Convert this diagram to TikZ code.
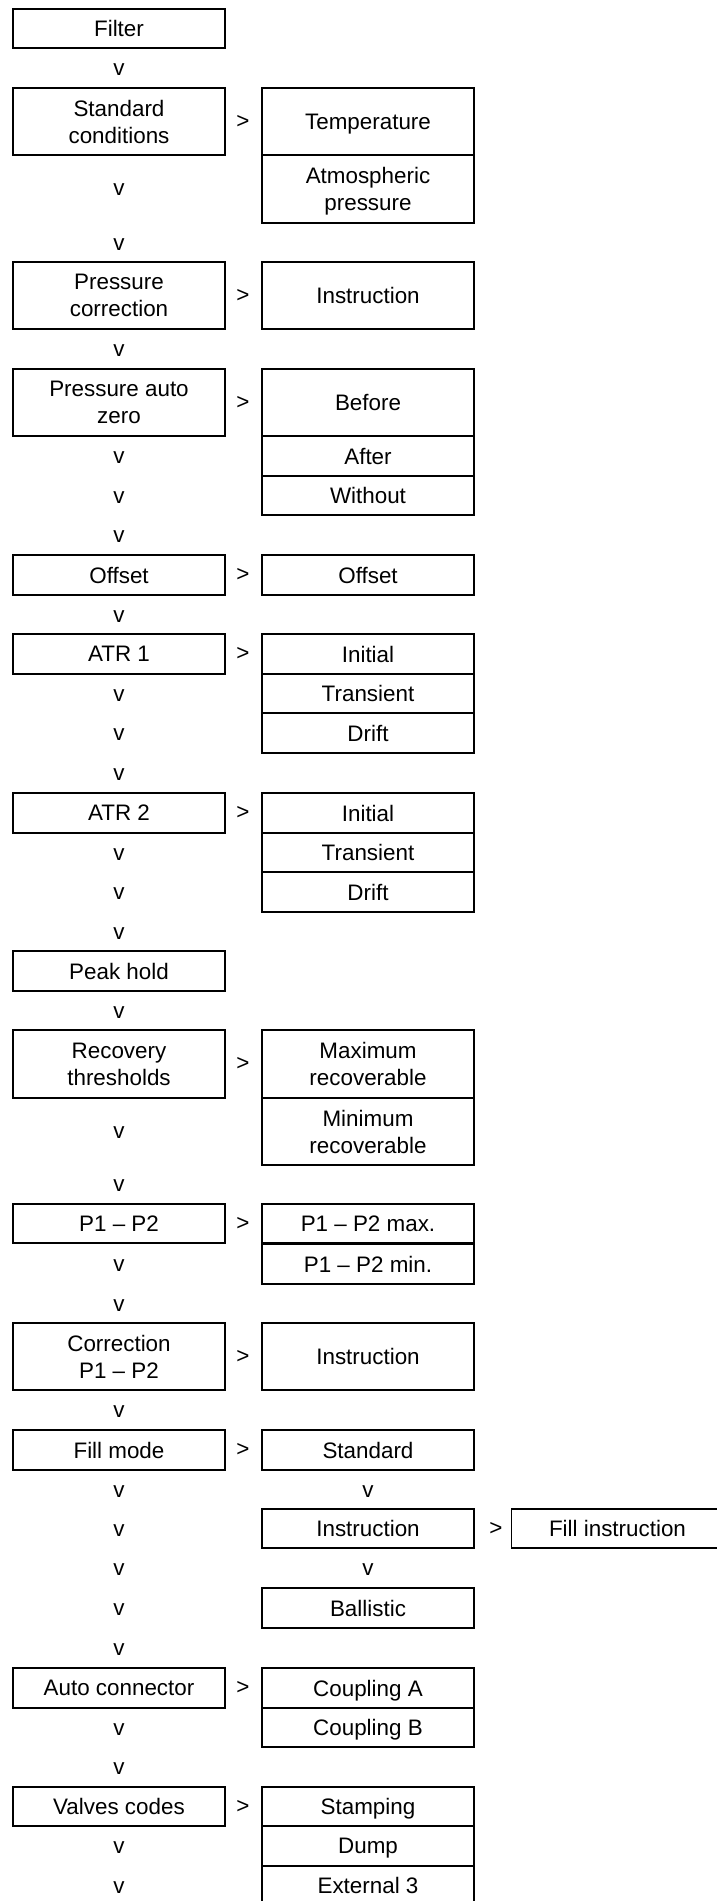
\documentclass[tikz,border=0pt]{standalone}
\usepackage{fontspec}
\setmainfont{Liberation Sans}

\begin{document}
\begin{tikzpicture}[
  x=1pt, y=-1pt, font=\fontsize{22.4}{27}\selectfont,
  cell/.style={draw, line width=1.8pt, minimum width=212pt, minimum height=39.5pt,
    inner sep=0pt, align=center, text depth=0pt},
  tall/.style={cell, minimum height=67.5pt},
  glyph/.style={inner sep=0pt}
]
\useasboundingbox (0,0) rectangle (717,1901);

% main menu
\node[cell] (filter)   at (119,28.5)   {Filter};
\node[tall] (stdcond)  at (119,121.5)  {Standard\\conditions};
\node[tall] (prescorr) at (119,295.5)  {Pressure\\correction};
\node[tall] (autozero) at (119,402.5)  {Pressure auto\\zero};
\node[cell] (offset)   at (119,575)    {Offset};
\node[cell] (atrone)   at (119,654)    {ATR 1};
\node[cell] (atrtwo)   at (119,813)    {ATR 2};
\node[cell] (peak)     at (119,971)    {Peak hold};
\node[tall] (recov)    at (119,1064)   {Recovery\\thresholds};
\node[cell] (ponetwo)  at (119,1223.5) {P1 -- P2};
\node[tall] (corr)     at (119,1356.5) {Correction\\P1 -- P2};
\node[cell] (fill)     at (119,1450)   {Fill mode};
\node[cell] (autocon)  at (119,1688)   {Auto connector};
\node[cell] (valves)   at (119,1806.5) {Valves codes};

% sub menus
\node[tall] (temp)      at (368,121.5)  {Temperature};
\node[tall] (atm)       at (368,189)    {Atmospheric\\pressure};
\node[tall] (instra)    at (368,295.5)  {Instruction};
\node[tall] (before)    at (368,402.5)  {Before};
\node[cell] (after)     at (368,456)    {After};
\node[cell] (without)   at (368,495.5)  {Without};
\node[cell] (offsetr)   at (368,575)    {Offset};
\node[cell] (initiala)  at (368,654)    {Initial};
\node[cell] (transa)    at (368,693.5)  {Transient};
\node[cell] (drifta)    at (368,733)    {Drift};
\node[cell] (initialb)  at (368,813)    {Initial};
\node[cell] (transb)    at (368,852.5)  {Transient};
\node[cell] (driftb)    at (368,892)    {Drift};
\node[tall] (maxrec)    at (368,1064)   {Maximum\\recoverable};
\node[tall] (minrec)    at (368,1131.5) {Minimum\\recoverable};
\node[cell] (pmax)      at (368,1223.5) {P1 -- P2 max.};
\node[cell] (pmin)      at (368,1264)   {P1 -- P2 min.};
\node[tall] (instrb)    at (368,1356.5) {Instruction};
\node[cell] (standard)  at (368,1450)   {Standard};
\node[cell] (instrc)    at (368,1528.5) {Instruction};
\node[cell] (ballistic) at (368,1608)   {Ballistic};
\node[cell] (coupla)    at (368,1688)   {Coupling A};
\node[cell] (couplb)    at (368,1727.5) {Coupling B};
\node[cell] (stamping)  at (368,1806.5) {Stamping};
\node[cell] (dump)      at (368,1846)   {Dump};
\node[cell] (extern)    at (368,1885.5) {External 3};
\node[cell] (fillinstr) at (617.5,1528.5) {Fill instruction};

% arrows as glyphs
\foreach \y [count=\i] in {121.5,295.5,402.5,575,654,813,1064,1223.5,1356.5,1450,1688,1806.5}
  \node[glyph] (gt\i) at (243,\y) {>};
\node[glyph] (gtfill) at (496,1528.5) {>};
\foreach \y [count=\i] in {70,244.5,351,458,497.5,537,616.5,695.5,735,775,854.5,894,933.5,
    1012.5,1186,1266,1305.5,1412,1491.5,1530.5,1570,1610,1650,1729.5,1769,1848,1887.5}
  \node[glyph] (dn\i) at (119,\y) {v};
\node[glyph] (dnatm) at (119,190) {v};
\node[glyph] (dnrec) at (119,1132.5) {v};
\node[glyph] (dnstd) at (368,1491.5) {v};
\node[glyph] (dnins) at (368,1570) {v};
\end{tikzpicture}
\end{document}
